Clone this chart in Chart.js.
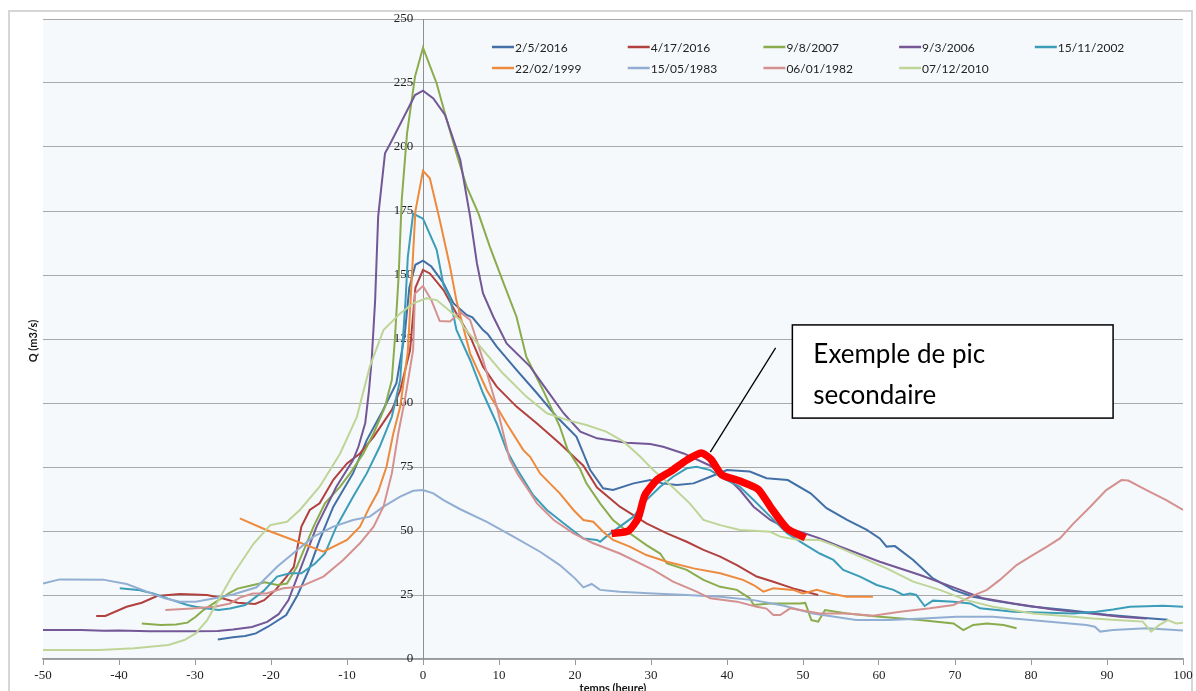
<!DOCTYPE html>
<html>
<head>
<meta charset="utf-8">
<style>
  html, body { margin: 0; padding: 0; background: #fff; }
  #wrap { width: 1196px; height: 691px; position: relative; }
</style>
<script src="https://cdn.jsdelivr.net/npm/chart.js@4.4.1/dist/chart.umd.min.js"></script>
</head>
<body>
<div id="wrap"><canvas id="canvas"></canvas></div>
<script>
// floods as [hour, Q m3/s]
const seriesNames = ['2/5/2016', '4/17/2016', '9/8/2007', '9/3/2006', '15/11/2002',
                     '22/02/1999', '15/05/1983', '06/01/1982', '07/12/2010']
const seriesColors = ['#416fa6', '#b2413e', '#8aac4c', '#735796', '#3c9db8',
                      '#ee8a3c', '#92aed2', '#d5918f', '#bfd597']

const q2016a = [[-27,7.6],[-25,8.5],[-23.4,9],[-22,10],[-20.4,12.6],[-18,17.2],[-16.5,25],[-15,35],[-13.6,46.5],[-11.8,59.5],[-9.2,72.6],[-7.4,85.5],[-5.3,97],[-3.5,107.7],[-2.4,127],[-1.8,145],[-1,154],[0,155.6],[1.1,153.3],[2.7,146.8],[4,139],[5.75,134.4],[6.5,133.5],[7.9,128.5],[8.5,127],[9.7,122],[12.3,112.9],[15,103.8],[17.6,94.6],[20.2,86.8],[22,73.8],[23.7,66.7],[25,66],[27.7,68.6],[29.9,69.9],[31.5,68.6],[33.4,68],[35.6,68.6],[37.8,71.2],[40,73.8],[43,73.2],[45.2,70.6],[48,69.9],[51,64.7],[53.1,58.9],[55.8,54.3],[58.4,50.4],[60.1,47.1],[61,43.9],[62.1,44.1],[64.5,38.7],[67.1,31.5],[69.8,27],[72.4,24.3],[75,22.8],[80,20.5],[85,19],[90,17.3],[95,16],[98,15.3]]
const q2016b = [[-43,16.8],[-41.8,16.8],[-39,20.4],[-37,22],[-35,24.6],[-32,25.4],[-28.4,25],[-26.4,23.7],[-24.4,22],[-22.1,21.5],[-20.9,23],[-19.4,27],[-18,32],[-17,36],[-16,51.7],[-14.9,58.2],[-13.6,60.8],[-11.8,70],[-10,76.4],[-8.3,80.3],[-6.5,86.8],[-4.1,97.3],[-3,105],[-1.7,120.7],[-1,145],[0,152],[0.9,150.6],[2.7,144.1],[4.4,135],[6.2,126],[7.9,114.2],[9.7,106.4],[12.3,98.6],[15,92],[18,84.2],[21.1,75.5],[22.9,67],[25.9,59.5],[29.4,53],[32.1,49.1],[34.7,45.8],[36.9,42.6],[39.1,40],[41.3,36.7],[43.9,32.2],[46.1,30.2],[48.7,27.6],[52,25]]
const q2007 = [[-37,13.9],[-34.5,13.3],[-32.5,13.5],[-31,14.2],[-29.9,16.5],[-28.9,19.1],[-26.9,23],[-25.4,25.9],[-24.4,27.5],[-22.9,28.5],[-20.8,30],[-19.2,28.9],[-17.9,29.5],[-16.6,36],[-14.4,51.7],[-12.9,60.8],[-10.9,67.3],[-9.6,72.5],[-7.85,80.3],[-6.5,88.2],[-5,98.5],[-4.1,109],[-3.7,125],[-3.2,150],[-2.8,179.3],[-2.1,205.3],[-1.05,227.5],[0,238.8],[1.8,224.8],[2.9,213],[4.4,197.5],[5.75,184.5],[7.3,174],[8.8,161],[10.6,146.8],[12.3,133.7],[13.6,118],[15.8,105],[18,90.8],[19,82],[20.7,74],[21.5,68.6],[23.3,60.8],[25,54.3],[27.2,49.1],[29.4,44.5],[31.2,41.2],[32.1,37.3],[34.7,34.8],[36.9,30.9],[39.1,28.2],[41.3,27],[43,23.7],[43.5,21.1],[45.7,21.7],[49.6,21.7],[50.3,21.9],[51.1,15.2],[52,14.6],[52.9,19.1],[55.8,17.8],[60.1,16.5],[65.4,15.2],[69.8,13.9],[71.1,11.3],[72.4,13.3],[74.2,13.9],[76.4,13.3],[78.1,12]]
const q2006 = [[-50,11.3],[-45,11.3],[-42,11],[-40,11.1],[-36,10.8],[-30,10.8],[-27,10.9],[-25,11.5],[-22.5,12.5],[-20.5,14.5],[-19,17.5],[-17.7,23],[-14,51.7],[-11.4,67.3],[-9.2,77.7],[-8.5,82.9],[-7.6,92.2],[-7.1,105],[-6.75,117],[-6.3,140],[-5.9,172.8],[-5,197.5],[-4.3,201.4],[-1.05,220.3],[0,222],[1.36,219],[2.9,212.5],[4.9,195],[6.2,172.8],[7.1,154.5],[7.9,142.8],[9.25,133.7],[11,123.3],[14.1,114.2],[16.3,105],[18.5,96],[20.7,88.8],[22.9,86.2],[26.8,84.5],[29.9,84],[31.6,82.9],[34.3,80.3],[37.8,75.5],[40.8,68.6],[41.7,66],[43.5,59.5],[45.7,54.3],[47.9,51],[49.6,49.7],[52.2,47.1],[54.9,43.9],[60.1,38],[65.4,32.8],[70.7,27],[73.7,23.7],[77.7,21.7],[82.9,19.3],[88.2,17.7],[91.7,16.5],[95.2,15.8]]
const q2002 = [[-39.9,27.6],[-37.5,27],[-35.5,25.6],[-33,23],[-31,21.1],[-29.9,20.4],[-28.4,19.7],[-26.9,19.1],[-25.4,19.7],[-23.4,21.1],[-21,26.5],[-19.2,32.2],[-17.5,33.5],[-16,33.5],[-14.2,37.3],[-12.9,41.2],[-11.4,51.7],[-9.2,63.4],[-7.4,72.5],[-5.7,82.9],[-4.1,94.6],[-3,109],[-2.3,140],[-2,157],[-1.3,174],[0,172],[1.8,159.8],[2.7,146],[3.55,141],[4.4,128.5],[6.2,116.8],[7.9,103.8],[9.7,92],[11,81.6],[12.3,74.5],[14.5,64],[16.3,58.2],[18.5,53],[21.1,47.1],[22.9,46.5],[23.3,45.8],[24.1,47.8],[25.9,51.7],[27.7,55.6],[29.4,62.1],[31.2,67.3],[32.9,71.2],[34.7,74.5],[36,75.1],[37.8,73.8],[39.5,70.6],[41.7,67.3],[43.5,62.1],[45.7,55.6],[47.9,49.1],[50,45.2],[52.2,41.2],[54,38.7],[55.3,34.8],[57.5,32.2],[59.7,28.9],[61.9,27],[63.2,25],[64.1,25.6],[64.9,25],[66,20.7],[67.1,22.8],[69.8,22.4],[72,21.7],[73.3,19.8],[77.7,18.5],[85.6,17.8],[88.6,18.5],[90.8,19.3],[93,20.4],[97.4,20.8],[100,20.4]]
const q1999 = [[-24.1,54.9],[-20.6,50.4],[-17.1,46.5],[-13.1,41.9],[-10,46.5],[-8.3,51.7],[-7,59.5],[-5.9,65.4],[-4.8,75.1],[-3.9,88.2],[-3,98.5],[-2,120],[-1,175],[0,190.7],[0.9,187.8],[2.2,171.5],[3.55,153.3],[4.4,140],[5.5,127.2],[6.2,119.4],[8.4,105],[11,92],[13.2,81.6],[14.1,79],[15.4,72.5],[16.7,68.6],[18,64.7],[19.8,58.2],[21.1,54.3],[22.4,53.6],[23.7,49.7],[25,46.5],[27.2,43.9],[29.4,40.6],[32.1,38],[35.6,35.4],[39.1,33.5],[42.1,30.9],[43.5,28.9],[44.8,26.3],[46.1,27.6],[48.7,27],[50,25.6],[51.8,27],[53.6,25.6],[55.8,24.3],[59.2,24.3]]
const q1983 = [[-50,29.5],[-47.8,31.1],[-42.1,31],[-39,29.3],[-36.5,26.5],[-34,23.7],[-32,22.4],[-29.9,22.4],[-27.4,23.7],[-24.9,25.3],[-21.9,28],[-19.2,36],[-17.1,41.2],[-14.4,47.8],[-11.8,51.7],[-9.2,54.3],[-7,55.6],[-5.2,59.5],[-3,63.4],[-1.3,65.7],[0,66],[1.36,64.7],[2.7,62.1],[4.9,58.5],[8.4,53.6],[11.9,47.8],[15.4,41.9],[18,36.7],[20,31.5],[21.1,28],[22.2,29.3],[23.3,27],[25.9,26.3],[30.3,25.6],[34.7,25],[39.1,24.3],[43.5,23],[47.5,20.8],[51.3,17.8],[57,15.2],[61.4,15.2],[65.8,15.8],[70.2,16.5],[75,16.5],[79.9,15.2],[87.3,13.3],[88.4,12.6],[89.1,10.7],[90.8,11.3],[95.2,12],[100,11.1]]
const q1982 = [[-33.9,19.1],[-30.4,19.7],[-27.4,20.4],[-25.4,21.7],[-24.1,24],[-22.4,25.6],[-20.6,25.6],[-18.4,27.6],[-16.2,28.2],[-13.1,32.2],[-10.5,38.7],[-8.3,45.2],[-6.5,51.7],[-5.2,59.5],[-4.1,72.5],[-3.25,88.2],[-2.4,101],[-1.3,120.7],[-1.05,142.8],[0,145.7],[1.1,140.2],[2.2,132],[3.55,131.8],[4.9,135.5],[6.2,132.4],[7.9,116.8],[9.7,98.6],[11.4,78],[12.5,72],[14.1,65],[15,60.8],[17.2,54.3],[19.8,49.1],[22.4,45.2],[25.9,41.2],[30.3,34.8],[32.9,30.2],[36,26.3],[37.8,23.7],[41.3,22.4],[43.9,20.4],[45.2,19.7],[46.1,17.2],[47,17.2],[48.3,19.8],[52.2,17.8],[55.8,17.8],[59.2,16.9],[62.8,18.5],[66.7,19.8],[69.8,21.1],[72,24.3],[74.2,27],[75.9,30.9],[78.1,36.7],[79.9,40],[82.1,43.9],[83.8,47.1],[85.6,53],[87.8,59.5],[89.9,66],[91.9,69.9],[92.8,69.7],[95.2,66],[97.8,62.1],[100,58.2]]
const q2010 = [[-50,3.5],[-42.5,3.5],[-38,4.2],[-33.5,5.5],[-31.4,7.4],[-29.9,10],[-28.4,15.2],[-26.9,23],[-25,33],[-22.3,45],[-20.1,52.3],[-17.9,53.6],[-16.2,58.2],[-13.6,67.3],[-10.9,80.3],[-8.7,94.6],[-7,114.2],[-5.2,128.5],[-3,135],[-1.3,138.9],[0.45,140.9],[1.8,140.2],[3.1,137],[4.9,132.4],[5.3,129.8],[7.9,120.7],[10.5,111.6],[13.6,102.5],[16.3,96],[18.9,93.4],[21.5,91.4],[24.1,88.8],[26.4,84.9],[28.6,79],[30.3,73.8],[32.9,67],[35.1,60.8],[36.9,54.3],[39.1,52.3],[41.7,50.4],[45.7,49.7],[47,47.8],[49.1,46.7],[52.2,46.5],[54,44.5],[57.5,40],[61,35.4],[64.5,30.2],[68,27],[71.5,23],[75,20.4],[80.3,17.8],[85.6,16.5],[88.2,15.8],[91.2,15.2],[94.7,14.6],[95.8,10.7],[96.9,13.3],[98,15.2],[99.1,13.9],[100,14.2]]

const seriesValues = [q2016a, q2016b, q2007, q2006, q2002, q1999, q1983, q1982, q2010]

// hand-drawn highlight of a secondary peak, and its callout
const peakCurve = [[24.8,49],[27,50],[28.3,55],[29.2,64],[30.8,70],[32.6,73.3],[34.7,77.7],[36.6,80.5],[37.9,78],[39.3,72],[41.7,69.5],[44.1,66.3],[45.7,59.5],[47.9,51],[50.3,47.3]]
const leaderLine = [[37.8,80.8],[46.4,121.5]]
const calloutBox = [48.6, 130.5, 90.8, 94.1]   // x1, yTop, x2, yBottom in data units
const calloutText = ['Exemple de pic', 'secondaire']

const xTicks = [-50, -40, -30, -20, -10, 0, 10, 20, 30, 40, 50, 60, 70, 80, 90, 100]
const yTicks = [0, 25, 50, 75, 100, 125, 150, 175, 200, 225, 250]

const toXY = arr => arr.map(p => ({ x: p[0], y: p[1] }))

const datasets = seriesValues.map((vals, i) => ({
    label: seriesNames[i],
    data: toXY(vals),
    borderColor: seriesColors[i],
    borderWidth: 2,
    pointRadius: 0,
    tension: 0,
    order: seriesValues.length - i,
}))
datasets.push({
    label: '',
    data: toXY(peakCurve),
    borderColor: '#ff0000',
    borderWidth: 7.5,
    pointRadius: 0,
    tension: 0.2,
    borderJoinStyle: 'round',
    order: 0,
})
datasets.push({
    label: '',
    data: toXY(leaderLine),
    borderColor: '#000',
    borderWidth: 1.3,
    pointRadius: 0,
    order: -1,
})

const frame = {
    id: 'frame',
    beforeDraw(chart) {
        const { ctx, chartArea: a } = chart
        ctx.save()
        ctx.fillStyle = '#fff'
        ctx.fillRect(0, 0, chart.width, chart.height)
        ctx.strokeStyle = '#d6d6d6'
        ctx.lineWidth = 2
        ctx.strokeRect(9, 11, chart.width - 13, chart.height)
        ctx.fillStyle = '#f5f9fc'
        ctx.fillRect(a.left, a.top, a.right - a.left, a.bottom - a.top)
        ctx.restore()
    },
    afterDatasetsDraw(chart) {
        const { ctx, chartArea: a, scales: { x, y } } = chart
        ctx.save()

        // y axis title
        ctx.translate(33, (a.top + a.bottom) / 2 + 2)
        ctx.rotate(-Math.PI / 2)
        ctx.font = 'bold 11px Lato'
        ctx.fillStyle = '#111'
        ctx.textAlign = 'center'
        ctx.textBaseline = 'middle'
        ctx.fillText('Q (m3/s)', 0, 0)
        ctx.setTransform(1, 0, 0, 1, 0, 0)

        // legend, 5 columns
        ctx.font = '12px Lato'
        ctx.textAlign = 'left'
        seriesNames.forEach((name, i) => {
            const lx = 492 + (i % 5) * 135.7
            const ly = 47 + Math.floor(i / 5) * 21
            ctx.strokeStyle = seriesColors[i]
            ctx.lineWidth = 2.5
            ctx.beginPath()
            ctx.moveTo(lx, ly)
            ctx.lineTo(lx + 22, ly)
            ctx.stroke()
            ctx.fillStyle = '#222'
            ctx.fillText(name, lx + 23, ly + 1)
        })

        // callout box
        const bx1 = x.getPixelForValue(calloutBox[0])
        const by1 = y.getPixelForValue(calloutBox[1])
        const bx2 = x.getPixelForValue(calloutBox[2])
        const by2 = y.getPixelForValue(calloutBox[3])
        ctx.fillStyle = '#fff'
        ctx.fillRect(bx1, by1, bx2 - bx1, by2 - by1)
        ctx.strokeStyle = '#000'
        ctx.lineWidth = 1.5
        ctx.strokeRect(bx1, by1, bx2 - bx1, by2 - by1)
        ctx.fillStyle = '#000'
        ctx.font = '26px Lato'
        ctx.fillText(calloutText[0], bx1 + 21, by1 + 30)
        ctx.fillText(calloutText[1], bx1 + 21, by1 + 71)
        ctx.restore()
    },
}

const tickFont = { family: 'Liberation Serif', size: 13 }

new Chart(document.getElementById('canvas'), {
    type: 'line',
    data: { datasets },
    options: {
        responsive: true,
        maintainAspectRatio: false,
        animation: false,
        layout: { padding: { left: 43, right: 13, top: 19, bottom: 0 } },
        plugins: { legend: { display: false }, tooltip: { enabled: false } },
        scales: {
            x: {
                type: 'linear',
                min: -50,
                max: 100,
                afterBuildTicks: s => { s.ticks = xTicks.map(v => ({ value: v })) },
                afterFit: s => { s.height = 32 },
                ticks: { font: tickFont, color: '#222', padding: 3, maxRotation: 0, autoSkip: false },
                grid: { drawOnChartArea: false, drawTicks: true, tickLength: 6, color: '#9a9a9a' },
                border: { color: '#9a9a9a', width: 1.5 },
                title: {
                    display: true,
                    text: 'temps (heure)',
                    color: '#111',
                    font: { family: 'Lato', weight: 'bold', size: 11 },
                    padding: { top: 0, bottom: -4 },
                },
            },
            y: {
                type: 'linear',
                min: 0,
                max: 250,
                position: { x: 0 },
                afterBuildTicks: s => { s.ticks = yTicks.map(v => ({ value: v })) },
                // an axis placed at x = 0 gets no label padding, so pad the text itself
                ticks: { font: tickFont, color: '#222', callback: v => v + '\u2002 ' },
                grid: { color: '#a9a9a9', lineWidth: 1, drawTicks: false },
                border: { color: '#8f8f8f' },
            },
        },
    },
    plugins: [frame],
})
</script>
</body>
</html>
